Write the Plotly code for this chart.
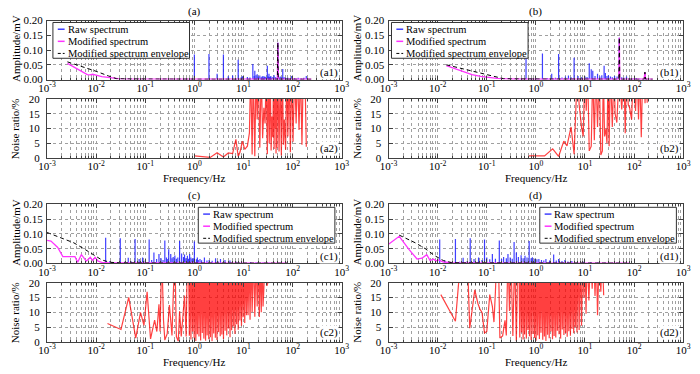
import plotly.graph_objects as go

FONT = "Liberation Serif"
W, H = 700, 374

# ---------------- data ----------------
x_tick_vals = [1e-3, 1e-2, 1e-1, 1e0, 1e1, 1e2, 1e3]
x_tick_text = ["10<sup>-3</sup>", "10<sup>-2</sup>", "10<sup>-1</sup>", "10<sup>0</sup>",
               "10<sup>1</sup>", "10<sup>2</sup>", "10<sup>3</sup>"]
amp_ticks = [0.0, 0.05, 0.10, 0.15, 0.20]
ratio_ticks = [0, 5, 10, 15, 20]
legend_names = ["Raw spectrum", "Modified spectrum", "Modified spectrum envelope"]
panel_titles = ["(a)", "(b)", "(c)", "(d)"]

# (a) raw spectrum lines
a1_raw_f = [1.0, 1.98, 2.9, 3.9, 4.9, 6.0, 7.8, 9.0, 9.5, 12,
            13.5, 15.5, 16.5, 17, 18, 19, 20, 21.5, 23, 24,
            25, 26, 27, 28, 29, 30.6, 32, 33, 34, 35,
            36, 38, 40, 42, 45, 48, 50, 53, 56, 60,
            63, 66, 70, 75, 80, 88, 96, 110, 130, 150,
            170, 190]
a1_raw_a = [0.085, 0.087, 0.02, 0.085, 0.011, 0.014, 0.067, 0.008, 0.011, 0.009,
            0.007, 0.053, 0.012, 0.03, 0.015, 0.018, 0.01, 0.014, 0.008, 0.01,
            0.012, 0.007, 0.01, 0.008, 0.006, 0.047, 0.01, 0.02, 0.008, 0.009,
            0.012, 0.007, 0.009, 0.015, 0.008, 0.006, 0.125, 0.007, 0.01, 0.008,
            0.036, 0.007, 0.008, 0.005, 0.006, 0.004, 0.012, 0.005, 0.006, 0.004,
            0.006, 0.012]
a1_mod_f = [0.0026, 0.0032, 0.004, 0.005, 0.0058, 0.0066, 0.0075, 0.0085, 0.0095, 0.011,
            0.013, 0.016, 0.02, 0.025, 0.03, 0.05, 0.1, 1, 10, 49, 50, 51, 100, 150, 240]
a1_mod_a = [0.055, 0.047, 0.038, 0.03, 0.024, 0.017, 0.016, 0.018, 0.016, 0.013,
            0.01, 0.008, 0.005, 0.003, 0.002, 0.0015, 0.001, 0.001, 0.001, 0.001,
            0.125, 0.001, 0.001, 0.001, 0.001]
a1_env_f = [0.0026, 0.005, 0.01, 0.018, 0.026, 0.05, 0.1, 1, 10, 49, 50, 51, 100, 240]
a1_env_a = [0.06, 0.045, 0.028, 0.012, 0.003, 0.002, 0.0015, 0.0012, 0.001, 0.001,
            0.125, 0.001, 0.001, 0.001]
a2_f = [1.0, 1.5, 2.1, 2.9, 3.9, 4.9, 6.0, 7.0, 7.8, 8.5,
        9.5, 10.6, 12, 13.2, 14.0, 15.0, 15.8, 17.0, 18.0, 19.0,
        20, 21.5, 23, 24.5, 26, 27.5, 29, 30.6, 32, 33.5,
        35, 36.5, 38, 39.5, 41, 42, 43, 44, 45, 46,
        47, 48, 49,
        50, 53, 56, 59, 62, 65, 68, 72, 76, 80,
        85, 90, 96, 102, 110, 118, 126, 135, 145, 155,
        165, 178, 190]
a2_v = [0.7, 0.3, 0.2, 1.8, 0.3, 1.7, 1.5, 6.3, 0.5, 2.0,
        5.7, 2.9, 4.0, 8.5, 30, 1.2, 30, 0.6, 30, 13,
        30, 3.5, 30, 6.7, 17, 11.7, 30, 1.3, 30, 5,
        30, 2.5, 14, 7, 30, 3, 30, 10, 30, 1.5,
        30, 3.5, 30,
        30, 2.2, 30, 0.8, 30, 4.5, 13, 2.8, 30, 7.3,
        30, 1.9, 30, 5.5, 30, 11.7, 30, 9.5, 30, 4.5,
        30, 30, 3.8]

# (b)
b1_raw_f = [0.63, 0.8, 1.0, 1.36, 1.7, 2.1, 2.5, 2.9, 3.4, 4.0,
            4.6, 5.2, 6.0, 7.2, 8.5, 10, 11, 12.2, 13.4, 14.4,
            16, 18, 20, 22, 24.5, 26, 28, 30, 33, 36,
            40, 45, 50, 56, 62, 70, 80, 95, 110, 130,
            166]
b1_raw_a = [0.085, 0.004, 0.005, 0.088, 0.005, 0.02, 0.006, 0.087, 0.007, 0.01,
            0.014, 0.008, 0.074, 0.012, 0.008, 0.01, 0.009, 0.055, 0.035, 0.03,
            0.012, 0.02, 0.01, 0.015, 0.047, 0.022, 0.012, 0.015, 0.01, 0.008,
            0.012, 0.01, 0.142, 0.008, 0.006, 0.01, 0.005, 0.004, 0.005, 0.003,
            0.02]
b1_mod_f = [0.015, 0.02, 0.027, 0.035, 0.05, 0.075, 0.1, 0.16, 0.25, 0.34,
            0.5, 1, 10, 49, 50, 51, 100, 160, 166, 172, 240]
b1_mod_a = [0.047, 0.04, 0.032, 0.025, 0.017, 0.011, 0.008, 0.004, 0.002, 0.0015,
            0.001, 0.001, 0.001, 0.001, 0.142, 0.001, 0.001, 0.001, 0.025, 0.001, 0.001]
b1_env_f = [0.015, 0.05, 0.1, 0.22, 0.5, 1, 10, 49, 50, 51, 100, 160, 166, 172, 240]
b1_env_a = [0.05, 0.03, 0.016, 0.003, 0.002, 0.0015, 0.0012, 0.001, 0.142, 0.001,
            0.001, 0.001, 0.025, 0.001, 0.001]
b2_f = [0.72, 1.5, 2.2, 2.9, 3.7, 4.3, 5.2, 6.0, 7.0, 7.6,
        8.5, 9.2, 10, 10.6, 11.3, 12.2, 13.4, 14.4, 15.5, 16.6,
        18, 19.5, 21, 22.6, 23.6, 25, 26.7, 28, 29.6, 31,
        33, 36, 39, 41, 44.5, 50, 56, 62, 66, 70,
        76, 81, 89, 96, 107, 115, 123, 130, 140, 150,
        160, 167, 175, 185]
b2_v = [0.7, 0.7, 3.1, 0.5, 5.7, 4.1, 10.5, 1.3, 30, 18,
        10.5, 7.3, 30, 16, 30, 2.4, 4, 30, 6, 30,
        10.5, 30, 1, 2.4, 30, 7.3, 9.8, 5, 30, 4,
        30, 10.5, 30, 15, 12, 30, 16.4, 30, 8.4, 30,
        18, 17, 13, 30, 15.9, 30, 13, 30, 7, 30,
        30, 18.5, 30, 18.7]

# (c)
c1_raw_f = [0.0156, 0.019, 0.023, 0.031, 0.038, 0.045, 0.052, 0.062, 0.075, 0.088,
            0.1, 0.12, 0.135, 0.15, 0.17, 0.19, 0.21, 0.23, 0.25, 0.27,
            0.28, 0.3, 0.33, 0.35, 0.37, 0.4, 0.43, 0.46, 0.5, 0.55,
            0.6, 0.63, 0.67, 0.72, 0.76, 0.8, 0.85, 0.9, 0.95, 1.0,
            1.1, 1.15, 1.2, 1.3, 1.4, 1.6, 1.8, 2.0, 2.3, 2.7,
            3.0, 3.4, 4.2, 5.3, 7.0, 10, 14, 18, 25, 33]
c1_raw_a = [0.087, 0.008, 0.004, 0.085, 0.006, 0.019, 0.007, 0.083, 0.015, 0.02,
            0.01, 0.081, 0.012, 0.037, 0.015, 0.032, 0.018, 0.012, 0.078, 0.02,
            0.015, 0.048, 0.032, 0.018, 0.022, 0.027, 0.016, 0.02, 0.076, 0.034,
            0.022, 0.03, 0.018, 0.026, 0.016, 0.032, 0.02, 0.015, 0.018, 0.074,
            0.014, 0.02, 0.012, 0.015, 0.011, 0.02, 0.01, 0.012, 0.009, 0.018,
            0.008, 0.015, 0.012, 0.01, 0.007, 0.006, 0.005, 0.004, 0.003, 0.002]
c1_mod_f = [0.001, 0.0012, 0.00165, 0.0021, 0.0037, 0.0042, 0.005, 0.0063, 0.0076, 0.0085,
            0.0095, 0.011, 0.013, 0.018, 0.03, 0.1, 1, 10, 80]
c1_mod_a = [0.078, 0.076, 0.054, 0.023, 0.023, 0.004, 0.03, 0.008, 0.021, 0.01,
            0.021, 0.008, 0.004, 0.002, 0.0015, 0.001, 0.001, 0.001, 0.001]
c1_env_f = [0.001, 0.00165, 0.0025, 0.0035, 0.0056, 0.0088, 0.013, 0.019, 0.03, 0.1, 1, 10, 80]
c1_env_a = [0.105, 0.092, 0.08, 0.07, 0.05, 0.03, 0.012, 0.004, 0.002, 0.0015, 0.0012, 0.001, 0.001]
c2_sparse_f = [0.017, 0.032, 0.046, 0.064, 0.08, 0.094, 0.109, 0.128, 0.155, 0.172,
               0.19, 0.2, 0.217, 0.235, 0.25, 0.28, 0.31, 0.35, 0.37, 0.4,
               0.43, 0.47, 0.5, 0.54, 0.58, 0.63, 0.68, 0.72]
c2_sparse_v = [6.2, 4.2, 15.1, 1.3, 10, 5.6, 17, 1, 7.4, 3.5,
               12.7, 3.5, 30, 7.3, 0.6, 2.8, 12.5, 2.2, 15, 30,
               1.8, 0.2, 10.4, 1.8, 8, 15.7, 1.8, 30]
c2_dense_f = [0.76, 0.79, 0.82, 0.85, 0.88, 0.92, 0.95, 0.99, 1.03, 1.07,
              1.11, 1.15, 1.2, 1.24, 1.29, 1.34, 1.39, 1.45, 1.5, 1.56,
              1.62, 1.69, 1.75, 1.82, 1.89, 1.96, 2.04, 2.12, 2.2, 2.29,
              2.38, 2.47, 2.57, 2.67, 2.77, 2.88, 2.99, 3.11, 3.23, 3.36,
              3.49, 3.62, 3.77, 3.91, 4.07, 4.23, 4.39, 4.56, 4.74, 4.93,
              5.12, 5.32, 5.53, 5.74, 5.97, 6.2, 6.44, 6.69, 6.96, 7.23,
              7.51, 7.8, 8.11, 8.43, 8.76, 9.1, 9.45, 9.82, 10.2, 10.6, 11.0, 11.5, 11.9]
c2_dense_v = [30, 2.1, 30, 0.8, 30, 3.5, 30, 1.2, 30, 0.3,
              30, 2.6, 30, 1.8, 30, 0.5, 30, 3.0, 30, 1.1,
              30, 0.4, 30, 2.2, 30, 0.9, 30, 1.6, 30, 0.2,
              30, 2.8, 30, 1.4, 30, 0.6, 30, 3.3, 30, 1.9,
              30, 2.5, 30, 1.0, 30, 3.8, 30, 2.2, 30, 4.5,
              30, 1.6, 30, 3.9, 30, 5.2, 30, 2.7, 30, 6.0,
              30, 4.1, 30, 7.2, 30, 5.5, 30, 8.3, 30, 6.4, 30, 9.0, 30]
c2_tail_f = [12.4, 13, 13.6, 14.3, 15, 16, 17, 18, 19, 20, 21, 22, 23, 24, 25, 26, 28, 30, 32]
c2_tail_v = [9, 30, 7.5, 30, 10, 30, 8.5, 30, 12, 30, 8.4, 30, 10, 30, 12, 30, 30, 19, 20.5]

# (d)
d1_raw_f = [0.011, 0.014, 0.017, 0.023, 0.028, 0.033, 0.04, 0.046, 0.055, 0.068,
            0.08, 0.09, 0.1, 0.115, 0.13, 0.15, 0.18, 0.2, 0.22, 0.25,
            0.27, 0.3, 0.33, 0.36, 0.4, 0.44, 0.5, 0.55, 0.6, 0.66,
            0.73, 0.8, 0.85, 0.95, 1.05, 1.15, 1.3, 1.45, 1.6, 1.9,
            2.3, 2.6, 2.9, 3.4, 3.9, 4.5, 5.4, 7, 9.2, 13,
            18, 25]
d1_raw_a = [0.081, 0.01, 0.005, 0.083, 0.006, 0.019, 0.008, 0.085, 0.015, 0.02,
            0.012, 0.081, 0.02, 0.014, 0.032, 0.016, 0.078, 0.015, 0.022, 0.018,
            0.032, 0.02, 0.016, 0.073, 0.037, 0.022, 0.028, 0.018, 0.026, 0.02,
            0.076, 0.018, 0.021, 0.016, 0.014, 0.015, 0.012, 0.01, 0.015, 0.01,
            0.03, 0.01, 0.015, 0.008, 0.012, 0.007, 0.008, 0.005, 0.006, 0.004,
            0.003, 0.002]
d1_mod_f = [0.001, 0.00165, 0.0026, 0.0038, 0.0048, 0.006, 0.007, 0.0082, 0.0092, 0.0105,
            0.013, 0.02, 0.05, 0.1, 1, 10, 80]
d1_mod_a = [0.065, 0.092, 0.048, 0.015, 0.018, 0.03, 0.01, 0.015, 0.008, 0.012,
            0.005, 0.003, 0.002, 0.0015, 0.001, 0.001, 0.001]
d1_env_f = [0.00165, 0.0025, 0.0035, 0.0056, 0.0088, 0.013, 0.019, 0.03, 0.1, 1, 10, 80]
d1_env_a = [0.096, 0.082, 0.07, 0.05, 0.026, 0.01, 0.003, 0.002, 0.0015, 0.0012, 0.001, 0.001]
d2_sparse_f = [0.0116, 0.023, 0.03, 0.04, 0.045, 0.057, 0.066, 0.073, 0.08, 0.09,
               0.1, 0.115, 0.13, 0.14, 0.15, 0.16, 0.172, 0.185, 0.21, 0.235,
               0.25, 0.27, 0.29, 0.31, 0.34, 0.37, 0.4, 0.43]
d2_sparse_v = [16, 7, 30, 30, 4.6, 17.6, 13, 11, 10, 3,
               3.5, 16, 12, 6.7, 17, 30, 30, 1.3, 2, 7.3,
               2.2, 30, 10.5, 30, 2, 30, 0.2, 30]
d2_dense_f = [0.45, 0.47, 0.49, 0.51, 0.53, 0.55, 0.57, 0.59, 0.61, 0.64,
              0.66, 0.69, 0.72, 0.74, 0.77, 0.8, 0.84, 0.87, 0.9, 0.94,
              0.97, 1.01, 1.05, 1.09, 1.14, 1.18, 1.23, 1.27, 1.32, 1.38,
              1.43, 1.49, 1.54, 1.6, 1.67, 1.73, 1.8, 1.87, 1.94, 2.02,
              2.1, 2.18, 2.26, 2.35, 2.44, 2.54, 2.64, 2.74, 2.85, 2.96,
              3.07, 3.19, 3.32, 3.45, 3.58, 3.72, 3.87, 4.02, 4.17, 4.34,
              4.51, 4.68, 4.86, 5.05, 5.25, 5.46, 5.67, 5.89, 6.12, 6.36,
              6.6, 6.86]
d2_dense_v = [30, 1.5, 30, 3.2, 30, 0.8, 30, 2.5, 30, 1.1,
              30, 4.0, 30, 1.9, 30, 0.6, 30, 2.7, 30, 1.3,
              30, 0.4, 30, 2.2, 30, 1.0, 30, 3.1, 30, 0.7,
              30, 1.8, 30, 0.3, 30, 2.4, 30, 1.2, 30, 3.5,
              30, 0.9, 30, 2.0, 30, 1.5, 30, 3.8, 30, 2.6,
              30, 1.1, 30, 4.2, 30, 2.3, 30, 3.0, 30, 1.7,
              30, 3.6, 30, 2.1, 30, 4.4, 30, 2.9, 30, 5.0,
              30, 3.2]
d2_tail_f = [7.2, 7.6, 8, 8.5, 9, 9.5, 10, 10.5, 11, 12, 13, 14, 15, 16, 17, 18, 19.5, 21, 22.5, 24]
d2_tail_v = [30, 4, 30, 5.5, 30, 15, 30, 9.5, 30, 14, 30, 18, 30, 15.5, 30, 9, 30, 17, 30, 15.8]

# ---------------- layout helpers ----------------
BLUE = "rgba(30,30,255,0.85)"
MAGENTA = "#ff33ff"
RED = "rgba(255,0,0,0.75)"
FRAME = "#404040"
GRID = "#a0a0a0"


def px(x):
    return x / W


def py(y):
    return 1 - y / H


def sticks(f, a):
    xs, ys = [], []
    for fi, ai in zip(f, a):
        xs += [fi, fi, None]
        ys += [0, ai, None]
    return xs, ys


panels = [
    dict(x0=39, x1=341, t=(15, 76), b=(96, 157), leg=(45, 17), title_y=6, xlab_y=178,
         raw=(a1_raw_f, a1_raw_a), mod=(a1_mod_f, a1_mod_a), env=(a1_env_f, a1_env_a),
         noise=(a2_f, a2_v), tag="a"),
    dict(x0=389, x1=691, t=(15, 76), b=(96, 157), leg=(392, 17), title_y=6, xlab_y=178,
         raw=(b1_raw_f, b1_raw_a), mod=(b1_mod_f, b1_mod_a), env=(b1_env_f, b1_env_a),
         noise=(b2_f, b2_v), tag="b"),
    dict(x0=39, x1=341, t=(205, 266), b=(286, 347), leg=(194, 208), title_y=196, xlab_y=367.5,
         raw=(c1_raw_f, c1_raw_a), mod=(c1_mod_f, c1_mod_a), env=(c1_env_f, c1_env_a),
         noise=(c2_sparse_f + c2_dense_f + c2_tail_f, c2_sparse_v + c2_dense_v + c2_tail_v), tag="c"),
    dict(x0=389, x1=691, t=(205, 266), b=(286, 347), leg=(544, 208), title_y=196, xlab_y=367.5,
         raw=(d1_raw_f, d1_raw_a), mod=(d1_mod_f, d1_mod_a), env=(d1_env_f, d1_env_a),
         noise=(d2_sparse_f + d2_dense_f + d2_tail_f, d2_sparse_v + d2_dense_v + d2_tail_v), tag="d"),
]

minor_vals = [m * 10.0 ** e for e in range(-3, 3) for m in range(2, 10)]
tickfont = dict(family=FONT, size=11, color="black")


def xaxis_cfg(domain, anchor):
    return dict(domain=domain, anchor=anchor, type="log", range=[-3, 3],
                tickmode="array", tickvals=x_tick_vals, ticktext=x_tick_text,
                showline=True, linecolor=FRAME, linewidth=1, mirror="ticks",
                ticks="inside", ticklen=4, tickcolor=FRAME, ticklabelstandoff=-2,
                showgrid=True, gridcolor=GRID, griddash="dot", gridwidth=1,
                minor=dict(tickmode="array", tickvals=minor_vals, showgrid=True,
                           gridcolor=GRID, griddash="dot", gridwidth=1,
                           ticks="inside", ticklen=2, tickcolor=FRAME),
                tickfont=tickfont, zeroline=False, fixedrange=True)


def yaxis_cfg(domain, anchor, rng, tvals, fmt, standoff):
    return dict(domain=domain, anchor=anchor, range=rng, tickmode="array",
                tickvals=tvals, tickformat=fmt,
                showline=True, linecolor=FRAME, linewidth=1, mirror="ticks",
                ticks="inside", ticklen=4, tickcolor=FRAME, ticklabelstandoff=standoff,
                showgrid=True, gridcolor=GRID, griddash="dot", gridwidth=1,
                tickfont=tickfont, zeroline=False, fixedrange=True)


fig = go.Figure()
layout = dict(width=W, height=H, margin=dict(l=0, r=0, t=0, b=0), autosize=False,
              paper_bgcolor="white", plot_bgcolor="white", showlegend=False,
              font=dict(family=FONT, size=11, color="black"))
annotations = []
shapes = []

for i, p in enumerate(panels):
    nt, nb = 2 * i + 1, 2 * i + 2
    st = "" if nt == 1 else str(nt)
    sb = str(nb)
    xdom = [px(p["x0"]), px(p["x1"])]
    layout["xaxis" + st] = xaxis_cfg(xdom, "y" + st)
    layout["yaxis" + st] = yaxis_cfg([py(p["t"][1]), py(p["t"][0])], "x" + st,
                                     [0, 0.2], amp_ticks, ".2f", 1)
    layout["xaxis" + sb] = xaxis_cfg(xdom, "y" + sb)
    layout["yaxis" + sb] = yaxis_cfg([py(p["b"][1]), py(p["b"][0])], "x" + sb,
                                     [0, 20], ratio_ticks, "d", 4)

    xs, ys = sticks(*p["raw"])
    fig.add_trace(go.Scatter(x=xs, y=ys, mode="lines", line=dict(color=BLUE, width=1.2),
                             name=legend_names[0], xaxis="x" + st, yaxis="y" + st))
    fig.add_trace(go.Scatter(x=p["mod"][0], y=p["mod"][1], mode="lines",
                             line=dict(color=MAGENTA, width=1.3),
                             name=legend_names[1], xaxis="x" + st, yaxis="y" + st))
    fig.add_trace(go.Scatter(x=p["env"][0], y=p["env"][1], mode="lines",
                             line=dict(color="black", width=1, dash="4px,3px"),
                             name=legend_names[2], xaxis="x" + st, yaxis="y" + st))
    nf, nv = p["noise"]
    fig.add_trace(go.Scatter(x=nf, y=nv, mode="lines", line=dict(color=RED, width=1.2),
                             name="Noise ratio", xaxis="x" + sb, yaxis="y" + sb))

    cx = (p["x0"] + p["x1"]) / 2
    annotations.append(dict(text=panel_titles[i], x=px(cx), y=py(p["title_y"]), xref="paper",
                            yref="paper", showarrow=False, xanchor="center", yanchor="middle",
                            font=dict(family=FONT, size=11)))
    annotations.append(dict(text="Frequency/Hz", x=px(cx), y=py(p["xlab_y"]), xref="paper",
                            yref="paper", showarrow=False, xanchor="center", yanchor="middle",
                            font=dict(family=FONT, size=11)))
    annotations.append(dict(text="Amplitude/mV", x=px(p["x0"] - 32), y=py((p["t"][0] + p["t"][1]) / 2 - 2),
                            xref="paper", yref="paper", showarrow=False, textangle=-90,
                            xanchor="center", yanchor="middle", font=dict(family=FONT, size=11)))
    annotations.append(dict(text="Noise ratio/%", x=px(p["x0"] - 32), y=py((p["b"][0] + p["b"][1]) / 2),
                            xref="paper", yref="paper", showarrow=False, textangle=-90,
                            xanchor="center", yanchor="middle", font=dict(family=FONT, size=11)))
    annotations.append(dict(text="(%s1)" % p["tag"], x=px(p["x1"] - 3), y=py(p["t"][1] - 7),
                            xref="paper", yref="paper", showarrow=False, xanchor="right",
                            yanchor="middle", bgcolor="white", borderpad=0,
                            font=dict(family=FONT, size=11)))
    annotations.append(dict(text="(%s2)" % p["tag"], x=px(p["x1"] - 3), y=py(p["b"][1] - 10),
                            xref="paper", yref="paper", showarrow=False, xanchor="right",
                            yanchor="middle", bgcolor="white", borderpad=0,
                            font=dict(family=FONT, size=11)))

    # legend box drawn in pixel geometry
    lx, ly = p["leg"]
    lw, lh = 140, 37
    shapes.append(dict(type="rect", xref="paper", yref="paper", x0=px(lx), x1=px(lx + lw),
                       y0=py(ly + lh), y1=py(ly), fillcolor="white",
                       line=dict(color="#303030", width=1), layer="above"))
    styles = [dict(color=BLUE, width=1.5), dict(color=MAGENTA, width=1.5),
              dict(color="black", width=1, dash="3px,2px")]
    for k in range(3):
        yy = ly + 7 + 12.5 * k
        shapes.append(dict(type="line", xref="paper", yref="paper", x0=px(lx + 5), x1=px(lx + 12),
                           y0=py(yy), y1=py(yy), line=styles[k], layer="above"))
        annotations.append(dict(text=legend_names[k], x=px(lx + 13), y=py(yy), xref="paper",
                                yref="paper", showarrow=False, xanchor="left", yanchor="middle",
                                font=dict(family=FONT, size=10.5)))

layout["annotations"] = annotations
layout["shapes"] = shapes
fig.update_layout(**layout)
fig.write_html("out.html", config={"displayModeBar": False},
               post_script="document.body.style.margin='0px';document.body.style.overflow='hidden';")
